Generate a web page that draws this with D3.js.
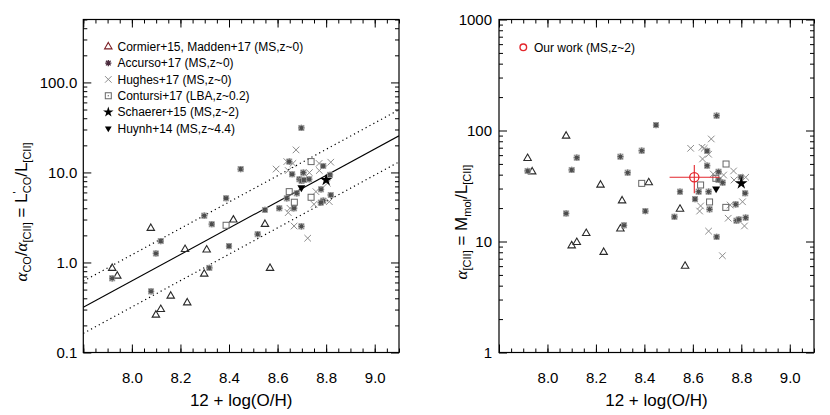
<!DOCTYPE html>
<html><head><meta charset="utf-8">
<script src="https://cdn.jsdelivr.net/npm/d3@7"></script>
<style>
body{margin:0;background:#fff}
svg{display:block}
text{font-family:"Liberation Sans",Arial,Helvetica,sans-serif;fill:#000}
</style>
</head><body><svg id="c" width="830" height="415"></svg>
<script>
// ---------- axes ----------
const xDomain = [7.8, 9.1];
const xTickValues = [8.0, 8.2, 8.4, 8.6, 8.8, 9.0];
const xTickLabels = ["8.0", "8.2", "8.4", "8.6", "8.8", "9.0"];
const leftYDomain = [0.1, 500];
const leftYTickValues = [0.1, 1, 10, 100];
const leftYTickLabels = ["0.1", "1.0", "10.0", "100.0"];
const rightYDomain = [1, 1000];
const rightYTickValues = [1, 10, 100, 1000];
const rightYTickLabels = ["1", "10", "100", "1000"];

// ---------- left panel: alpha_CO / alpha_[CII] ----------
const cormierX_L = [7.919, 7.940, 8.078, 8.219, 8.308, 8.298, 8.160, 8.119, 8.099, 8.228, 8.418, 8.548, 8.569];
const cormierRatio = [0.863, 0.708, 2.40, 1.40, 1.38, 0.745, 0.424, 0.302, 0.261, 0.357, 2.97, 2.66, 0.863];
const accursoX_L = [7.919, 8.079, 8.119, 8.099, 8.298, 8.329, 8.388, 8.448, 8.319, 8.400, 8.518, 8.698, 8.648, 8.788, 8.660, 8.706, 8.690, 8.699, 8.709, 8.730, 8.816, 8.679, 8.779, 8.638, 8.819, 8.788, 8.778, 8.548, 8.607, 8.668, 8.698];
const accursoRatio = [0.667, 0.478, 1.73, 1.26, 3.31, 2.66, 5.17, 10.9, 0.87, 1.52, 2.06, 31.2, 13.2, 11.8, 9.55, 9.95, 8.4, 8.05, 8.25, 8.4, 9.4, 5.87, 6.5, 5.16, 5.62, 4.86, 4.62, 3.83, 4.0, 4.0, 2.52];
const hughesX_L = [8.676, 8.638, 8.663, 8.771, 8.819, 8.594, 8.644, 8.772, 8.731, 8.805, 8.758, 8.750, 8.813, 8.651, 8.644, 8.668, 8.724];
const hughesRatio = [17.8, 13.2, 12.6, 12.6, 13.0, 10.9, 10.5, 10.5, 9.95, 7.6, 6.12, 4.43, 4.74, 4.0, 3.58, 2.54, 1.86];
const contursiX_L = [8.388, 8.738, 8.648, 8.738, 8.669];
const contursiRatio = [2.59, 13.2, 6.12, 5.3, 4.67];
const schaererX_L = [8.800];
const schaererRatio = [8.25];
const huynhX_L = [8.698];
const huynhRatio = [6.78];
// best fit and +-scatter lines (endpoints at the axis limits)
const fitX = [7.8, 9.1];
const fitY = [0.318, 25.5];
const fitUpperY = [0.62, 49.7];
const fitLowerY = [0.163, 13.1];

// ---------- right panel: alpha_[CII] ----------
const cormierX_R = [7.918, 7.937, 8.077, 8.219, 8.308, 8.418, 8.160, 8.121, 8.100, 8.232, 8.301, 8.547, 8.568];
const cormierAlpha = [56.2, 42.5, 89.2, 32.3, 23.3, 33.9, 11.85, 9.84, 9.17, 8.0, 13.0, 19.6, 6.0];
const accursoX_R = [7.918, 8.077, 8.100, 8.121, 8.301, 8.331, 8.389, 8.448, 8.316, 8.404, 8.524, 8.698, 8.659, 8.659, 8.706, 8.706, 8.723, 8.798, 8.547, 8.624, 8.665, 8.816, 8.609, 8.669, 8.777, 8.780, 8.790, 8.818, 8.698];
const accursoAlpha = [43.2, 17.9, 44.1, 56.9, 58.1, 41.7, 65.8, 112, 14.0, 18.8, 16.7, 136, 65.4, 48.2, 42.5, 35.8, 33.9, 37.9, 28.1, 28.1, 28.1, 27.2, 24.1, 19.5, 21.6, 15.4, 15.8, 16.4, 11.0];
const hughesX_R = [8.676, 8.591, 8.638, 8.647, 8.665, 8.640, 8.768, 8.727, 8.684, 8.770, 8.818, 8.632, 8.628, 8.754, 8.805, 8.746, 8.813, 8.665, 8.722];
const hughesAlpha = [83.9, 69.1, 70.6, 69.1, 61.1, 55.4, 43.2, 39.7, 40.6, 35.8, 37.9, 20.9, 18.8, 21.3, 22.8, 16.2, 13.8, 12.4, 7.45];
const contursiX_R = [8.389, 8.737, 8.695, 8.632, 8.669, 8.736];
const contursiAlpha = [33.4, 49.9, 37.1, 32.3, 22.7, 20.3];
const schaererX_R = [8.800];
const schaererAlpha = [33.4];
const huynhX_R = [8.696];
const huynhAlpha = [29.9];
const ourWorkX = [8.606];
const ourWorkAlpha = [37.9];
const ourWorkXRange = [8.504, 8.710];
const ourWorkAlphaRange = [27.2, 48.9];

// ---------- legends ----------
const leftLegendLabels = ["Cormier+15, Madden+17 (MS,z~0)", "Accurso+17 (MS,z~0)", "Hughes+17 (MS,z~0)",
  "Contursi+17 (LBA,z~0.2)", "Schaerer+15 (MS,z~2)", "Huynh+14 (MS,z~4.4)"];
const leftLegendKinds = ["tri", "ast", "cross", "square", "star", "down"];
const rightLegendLabels = ["Our work (MS,z~2)"];

const svg = d3.select("#c");
const zip = (xs, ys) => xs.map((x, i) => [x, ys[i]]);

function drawMarker(g, kind, x, y, legend) {
  if (kind === "tri") {
    g.append("path").attr("d", d3.symbol(d3.symbolTriangle, 24)())
      .attr("transform", `translate(${x},${y})`)
      .attr("fill", "none").attr("stroke", legend ? "#7a1f24" : "#2a2a2a").attr("stroke-width", 1.1);
  } else if (kind === "ast") {
    const r = 3.1, c = legend ? "#4a2a3c" : "#4d4d4d";
    const d = `M${-r},0L${r},0M0,${-r}L0,${r}M${-r*0.75},${-r*0.75}L${r*0.75},${r*0.75}M${-r*0.75},${r*0.75}L${r*0.75},${-r*0.75}`;
    g.append("path").attr("d", d).attr("transform", `translate(${x},${y})`)
      .attr("stroke", c).attr("stroke-width", 1.3).attr("fill", "none");
    g.append("rect").attr("x", x - 2.6).attr("y", y - 2.6).attr("width", 5.2).attr("height", 5.2)
      .attr("fill", "none").attr("stroke", legend ? "none" : "#9a9a9a").attr("stroke-width", 0.8);
  } else if (kind === "cross") {
    const r = 3.3;
    g.append("path").attr("d", `M${-r},${-r}L${r},${r}M${-r},${r}L${r},${-r}`)
      .attr("transform", `translate(${x},${y})`).attr("stroke", "#8c8c8c").attr("stroke-width", 1);
  } else if (kind === "square") {
    g.append("rect").attr("x", x - 3).attr("y", y - 3).attr("width", 6).attr("height", 6)
      .attr("fill", "none").attr("stroke", "#666").attr("stroke-width", 1);
    if (legend) g.append("rect").attr("x", x - 0.6).attr("y", y - 0.6).attr("width", 1.2).attr("height", 1.2).attr("fill", "#666");
  } else if (kind === "star") {
    g.append("path").attr("d", d3.symbol(d3.symbolStar, legend ? 34 : 48)())
      .attr("transform", `translate(${x},${y})`).attr("fill", "#000");
  } else if (kind === "down") {
    g.append("path").attr("d", d3.symbol(d3.symbolTriangle, legend ? 20 : 28)())
      .attr("transform", `translate(${x},${y}) rotate(180)`).attr("fill", "#000");
  } else if (kind === "circle") {
    g.append("circle").attr("cx", x).attr("cy", y).attr("r", legend ? 3.3 : 4.6)
      .attr("fill", "none").attr("stroke", "#e3262c").attr("stroke-width", legend ? 1.4 : 1.3);
  }
}

function makePanel(p) {
  const x = d3.scaleLinear().domain(xDomain).range([p.x0, p.x1]);
  const y = d3.scaleLog().domain(p.yDomain).range([p.y1, p.y0]);
  const g = svg.append("g");

  const xMinor = d3.range(0, 27).map(i => +(7.8 + i * 0.05).toFixed(2)).filter(v => v <= 9.1);
  const yMinor = [];
  for (let d = p.yDomain[0]; d < p.yDomain[1]; d *= 10)
    for (let k = 2; k <= 9; k++) { const v = d * k; if (v <= p.yDomain[1]) yMinor.push(v); }

  function ticks(axisGen, tr, vals, size) {
    const a = g.append("g").attr("transform", tr)
      .call(axisGen.tickValues(vals).tickSize(-size).tickFormat(""));
    a.select(".domain").remove();
    a.selectAll("line").attr("stroke", "#000").attr("stroke-width", 1);
  }
  ticks(d3.axisBottom(x), `translate(0,${p.y1})`, xMinor, 4);
  ticks(d3.axisTop(x), `translate(0,${p.y0})`, xMinor, 4);
  ticks(d3.axisBottom(x), `translate(0,${p.y1})`, [7.8].concat(xTickValues), 8);
  ticks(d3.axisTop(x), `translate(0,${p.y0})`, [7.8].concat(xTickValues), 8);
  ticks(d3.axisLeft(y), `translate(${p.x0},0)`, yMinor, 4);
  ticks(d3.axisRight(y), `translate(${p.x1},0)`, yMinor, 4);
  ticks(d3.axisLeft(y), `translate(${p.x0},0)`, p.yTicks, 8);
  ticks(d3.axisRight(y), `translate(${p.x1},0)`, p.yTicks, 8);

  const xl = g.append("g").attr("transform", `translate(0,${p.y1})`)
    .call(d3.axisBottom(x).tickValues(xTickValues).tickSize(0).tickPadding(20)
      .tickFormat((d, i) => xTickLabels[i]));
  xl.select(".domain").remove();
  xl.selectAll("text").attr("font-size", 15).attr("font-family", "Liberation Sans, Arial, sans-serif");
  const yl = g.append("g").attr("transform", `translate(${p.x0},0)`)
    .call(d3.axisLeft(y).tickValues(p.yTicks).tickSize(0).tickPadding(p.yPad)
      .tickFormat((d, i) => p.yLabels[i]));
  yl.select(".domain").remove();
  yl.selectAll("text").attr("font-size", 15).attr("font-family", "Liberation Sans, Arial, sans-serif");

  g.append("rect").attr("x", p.x0).attr("y", p.y0).attr("width", p.x1 - p.x0).attr("height", p.y1 - p.y0)
    .attr("fill", "none").attr("stroke", "#000").attr("stroke-width", 1.2);

  g.append("text").attr("x", (p.x0 + p.x1) / 2).attr("y", 406).attr("text-anchor", "middle")
    .attr("font-size", 17).text("12 + log(O/H)");

  const clip = "clip" + p.id;
  svg.append("clipPath").attr("id", clip).append("rect")
    .attr("x", p.x0).attr("y", p.y0).attr("width", p.x1 - p.x0).attr("height", p.y1 - p.y0);
  const data = g.append("g").attr("clip-path", `url(#${clip})`);
  return { x, y, g, data };
}

// ---------- left panel ----------
const L = makePanel({ id: "L", x0: 83.3, x1: 399, y0: 19.5, y1: 352.5, yDomain: leftYDomain,
  yTicks: leftYTickValues, yLabels: leftYTickLabels, yPad: 6 });

const line = d3.line().x(d => L.x(d[0])).y(d => L.y(d[1]));
L.data.append("path").attr("d", line(zip(fitX, fitY))).attr("stroke", "#000").attr("stroke-width", 1.1).attr("fill", "none");
[fitUpperY, fitLowerY].forEach(ys => {
  L.data.append("path").attr("d", line(zip(fitX, ys))).attr("stroke", "#000").attr("stroke-width", 1.2)
    .attr("stroke-dasharray", "1.2,3.2").attr("fill", "none");
});

function plotSeries(P, xs, ys, kind) {
  zip(xs, ys).forEach(([a, b]) => drawMarker(P.data, kind, P.x(a), P.y(b), false));
}
plotSeries(L, hughesX_L, hughesRatio, "cross");
plotSeries(L, cormierX_L, cormierRatio, "tri");
plotSeries(L, accursoX_L, accursoRatio, "ast");
plotSeries(L, contursiX_L, contursiRatio, "square");
plotSeries(L, huynhX_L, huynhRatio, "down");
plotSeries(L, schaererX_L, schaererRatio, "star");

leftLegendLabels.forEach((lab, i) => {
  const yy = 46.7 + i * 16.35;
  drawMarker(L.g, leftLegendKinds[i], 108.3, yy, true);
  L.g.append("text").attr("x", 117.5).attr("y", yy + 4.3).attr("font-size", 12).text(lab);
});

const lt = L.g.append("text").attr("transform", "translate(27,212) rotate(-90)")
  .attr("text-anchor", "middle").attr("font-size", 17);
lt.append("tspan").attr("font-family", "Liberation Serif, serif").attr("font-style", "italic").text("α");
lt.append("tspan").attr("font-size", 11).attr("dy", 4).text("CO");
lt.append("tspan").attr("dy", -4).text("/");
lt.append("tspan").attr("font-family", "Liberation Serif, serif").attr("font-style", "italic").text("α");
lt.append("tspan").attr("font-size", 11).attr("dy", 4).text("[CII]");
lt.append("tspan").attr("dy", -4).text(" = L");
lt.append("tspan").attr("font-size", 11).attr("dy", -6).text("'");
lt.append("tspan").attr("font-size", 11).attr("dy", 10).attr("dx", -2).text("CO");
lt.append("tspan").attr("dy", -4).text("/L");
lt.append("tspan").attr("font-size", 11).attr("dy", 4).text("[CII]");

// ---------- right panel ----------
const R = makePanel({ id: "R", x0: 499, x1: 814, y0: 19.5, y1: 352.5, yDomain: rightYDomain,
  yTicks: rightYTickValues, yLabels: rightYTickLabels, yPad: 7 });

plotSeries(R, hughesX_R, hughesAlpha, "cross");
plotSeries(R, cormierX_R, cormierAlpha, "tri");
plotSeries(R, accursoX_R, accursoAlpha, "ast");
plotSeries(R, contursiX_R, contursiAlpha, "square");
plotSeries(R, huynhX_R, huynhAlpha, "down");
plotSeries(R, schaererX_R, schaererAlpha, "star");

R.data.append("line").attr("x1", R.x(ourWorkXRange[0])).attr("x2", R.x(ourWorkXRange[1]))
  .attr("y1", R.y(ourWorkAlpha[0])).attr("y2", R.y(ourWorkAlpha[0])).attr("stroke", "#e3262c").attr("stroke-width", 1.1);
R.data.append("line").attr("x1", R.x(ourWorkX[0])).attr("x2", R.x(ourWorkX[0]))
  .attr("y1", R.y(ourWorkAlphaRange[0])).attr("y2", R.y(ourWorkAlphaRange[1])).attr("stroke", "#e3262c").attr("stroke-width", 1.1);
drawMarker(R.data, "circle", R.x(ourWorkX[0]), R.y(ourWorkAlpha[0]), false);

drawMarker(R.g, "circle", 523.3, 47.3, true);
R.g.append("text").attr("x", 534).attr("y", 51.6).attr("font-size", 12).text(rightLegendLabels[0]);

const rt = R.g.append("text").attr("transform", "translate(467,222) rotate(-90)")
  .attr("text-anchor", "middle").attr("font-size", 17);
rt.append("tspan").attr("font-family", "Liberation Serif, serif").attr("font-style", "italic").text("α");
rt.append("tspan").attr("font-size", 11).attr("dy", 4).text("[CII]");
rt.append("tspan").attr("dy", -4).text(" = M");
rt.append("tspan").attr("font-size", 11).attr("dy", 4).text("mol");
rt.append("tspan").attr("dy", -4).text("/L");
rt.append("tspan").attr("font-size", 11).attr("dy", 4).text("[CII]");
</script>
</body></html>
